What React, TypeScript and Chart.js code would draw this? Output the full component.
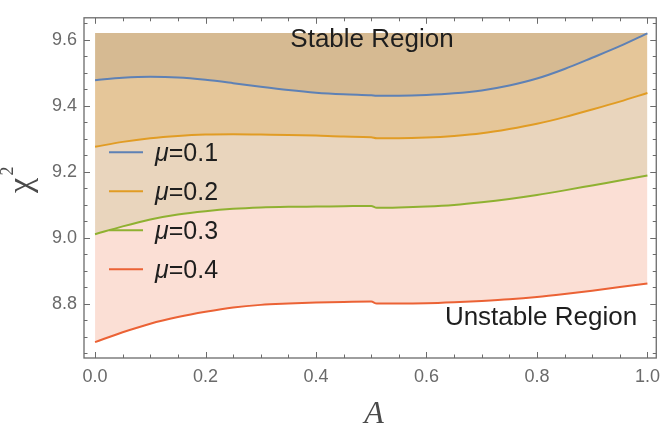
import React, { useEffect, useRef } from 'react';
import { Chart, registerables } from 'chart.js';

Chart.register(...registerables);

// ---- data ----
const aValues = [0, 0.05, 0.1, 0.15, 0.2, 0.25, 0.3, 0.35, 0.4, 0.45, 0.5, 0.51, 0.55, 0.6, 0.65, 0.7, 0.75, 0.8, 0.85, 0.9, 0.95, 1.0];
const mu01 = [9.477, 9.484, 9.487, 9.485, 9.478, 9.468, 9.457, 9.447, 9.439, 9.434, 9.431, 9.430, 9.430, 9.432, 9.437, 9.446, 9.461, 9.482, 9.511, 9.545, 9.580, 9.619];
const mu02 = [9.275, 9.290, 9.301, 9.308, 9.312, 9.313, 9.312, 9.311, 9.309, 9.306, 9.304, 9.301, 9.301, 9.303, 9.308, 9.316, 9.329, 9.345, 9.365, 9.388, 9.412, 9.438];
const mu03 = [9.010, 9.034, 9.055, 9.070, 9.080, 9.087, 9.091, 9.093, 9.094, 9.095, 9.096, 9.090, 9.091, 9.094, 9.099, 9.107, 9.117, 9.129, 9.143, 9.158, 9.173, 9.188];
const mu04 = [8.683, 8.713, 8.739, 8.759, 8.775, 8.788, 8.796, 8.800, 8.803, 8.805, 8.806, 8.800, 8.800, 8.801, 8.804, 8.808, 8.813, 8.820, 8.829, 8.839, 8.850, 8.861];
const stableTop = 9.62;

const seriesNames = ['0.1', '0.2', '0.3', '0.4'];
const seriesValues = [mu01, mu02, mu03, mu04];
const lineColors = ['#5e81b5', '#e19c24', '#8fb131', '#eb6235'];
const bandColors = ['rgb(214,186,146)', 'rgb(229,198,153)', 'rgb(233,213,189)', 'rgb(251,223,213)'];

const xTickValues = [0, 0.2, 0.4, 0.6, 0.8, 1.0];
const yTickValues = [8.8, 9.0, 9.2, 9.4, 9.6];

const W = 668;
const H = 425;

const frameColor = '#6b6b6b';

const framePlugin = {
  id: 'frameTicks',
  afterDatasetsDraw(chart: any) {
    const { ctx, chartArea } = chart;
    const { left, right, top, bottom } = chartArea;
    const xs = chart.scales.x;
    const ys = chart.scales.y;
    ctx.save();
    ctx.strokeStyle = frameColor;
    ctx.lineWidth = 1.3;
    ctx.strokeRect(left, top, right - left, bottom - top);
    ctx.lineWidth = 1;
    ctx.beginPath();
    for (let i = 0; i <= 20; i++) {
      const v = i * 0.05;
      const major = i % 4 === 0;
      const len = major ? 6 : 3.5;
      const px = Math.round(xs.getPixelForValue(v)) + 0.5;
      ctx.moveTo(px, bottom);
      ctx.lineTo(px, bottom - len);
      ctx.moveTo(px, top);
      ctx.lineTo(px, top + len);
    }
    for (let i = 0; i <= 20; i++) {
      const v = 8.65 + i * 0.05;
      const major = (i - 3) % 4 === 0;
      const len = major ? 6 : 3.5;
      const py = Math.round(ys.getPixelForValue(v)) + 0.5;
      if (py < top || py > bottom) continue;
      ctx.moveTo(left, py);
      ctx.lineTo(left + len, py);
      ctx.moveTo(right, py);
      ctx.lineTo(right - len, py);
    }
    ctx.stroke();
    ctx.restore();
  },
  afterDraw(chart: any) {
    const { ctx } = chart;
    ctx.save();
    // region annotations
    ctx.fillStyle = '#1e1e1e';
    ctx.font = '26px "Liberation Sans", Arial, sans-serif';
    ctx.textAlign = 'center';
    ctx.textBaseline = 'alphabetic';
    ctx.fillText('Stable Region', 372, 47);
    ctx.fillText('Unstable Region', 541, 325);

    // legend
    for (let i = 0; i < seriesNames.length; i++) {
      const ly = 152.3 + 39 * i;
      ctx.strokeStyle = lineColors[i];
      ctx.lineWidth = 2;
      ctx.beginPath();
      ctx.moveTo(109, ly);
      ctx.lineTo(143, ly);
      ctx.stroke();
      ctx.textAlign = 'left';
      ctx.fillStyle = '#1e1e1e';
      ctx.font = 'italic 25px "Liberation Sans", Arial, sans-serif';
      ctx.fillText('μ', 155, ly + 8.5);
      const mw = ctx.measureText('μ').width;
      ctx.font = '25px "Liberation Sans", Arial, sans-serif';
      ctx.fillText('=' + seriesNames[i], 155 + mw, ly + 8.5);
    }

    // axis titles
    ctx.fillStyle = '#4a4a4a';
    ctx.font = 'italic 32px "Liberation Serif", "Times New Roman", serif';
    ctx.textAlign = 'center';
    ctx.fillText('A', 374, 423);

    ctx.translate(31, 185.5);
    ctx.rotate(-Math.PI / 2);
    ctx.font = '34px "Liberation Serif", "Times New Roman", serif';
    ctx.textAlign = 'center';
    ctx.fillText('χ', 0, 0);
    ctx.font = '18px "Liberation Serif", "Times New Roman", serif';
    ctx.fillText('2', 14.5, -18);
    ctx.restore();
  },
};

function buildConfig(): any {
  const datasets = seriesValues.map((vals, i) => ({
    label: 'μ=' + seriesNames[i],
    data: aValues.map((a, k) => ({ x: a, y: vals[k] })),
    borderColor: lineColors[i],
    backgroundColor: bandColors[i],
    borderWidth: 2,
    pointRadius: 0,
    cubicInterpolationMode: 'monotone',
    fill: i === 0 ? { value: stableTop } : '-1',
  }));
  return {
    type: 'line',
    data: { datasets },
    options: {
      responsive: false,
      animation: false,
      events: [],
      layout: { padding: { top: 1, right: 4, left: 0, bottom: 0 } },
      plugins: {
        legend: { display: false },
        tooltip: { enabled: false },
        filler: { drawTime: 'beforeDatasetsDraw' },
      },
      scales: {
        x: {
          type: 'linear',
          min: -0.02,
          max: 1.016,
          afterBuildTicks: (s: any) => {
            s.ticks = xTickValues.map((v) => ({ value: v }));
          },
          afterFit: (s: any) => {
            s.height = 67;
          },
          grid: { display: false, drawTicks: false },
          border: { display: false },
          ticks: {
            autoSkip: false,
            maxRotation: 0,
            padding: 8,
            color: '#6a6a6a',
            font: { size: 18, family: '"Liberation Sans", Arial, sans-serif' },
            callback: (v: any) => Number(v).toFixed(1),
          },
        },
        y: {
          type: 'linear',
          min: 8.635,
          max: 9.666,
          afterBuildTicks: (s: any) => {
            s.ticks = yTickValues.map((v) => ({ value: v }));
          },
          afterFit: (s: any) => {
            s.width = 84;
          },
          grid: { display: false, drawTicks: false },
          border: { display: false },
          ticks: {
            autoSkip: false,
            padding: 7,
            color: '#6a6a6a',
            font: { size: 18, family: '"Liberation Sans", Arial, sans-serif' },
            callback: (v: any) => Number(v).toFixed(1),
          },
        },
      },
    },
    plugins: [framePlugin],
  };
}

export default function App() {
  const ref = useRef<HTMLCanvasElement>(null);
  useEffect(() => {
    document.body.style.margin = '0';
    document.body.style.overflow = 'hidden';
    const chart = new Chart(ref.current as HTMLCanvasElement, buildConfig());
    return () => chart.destroy();
  }, []);
  return (
    <div style={{ width: W, height: H, background: '#ffffff' }}>
      <canvas ref={ref} width={W} height={H} style={{ display: 'block' }} />
    </div>
  );
}
